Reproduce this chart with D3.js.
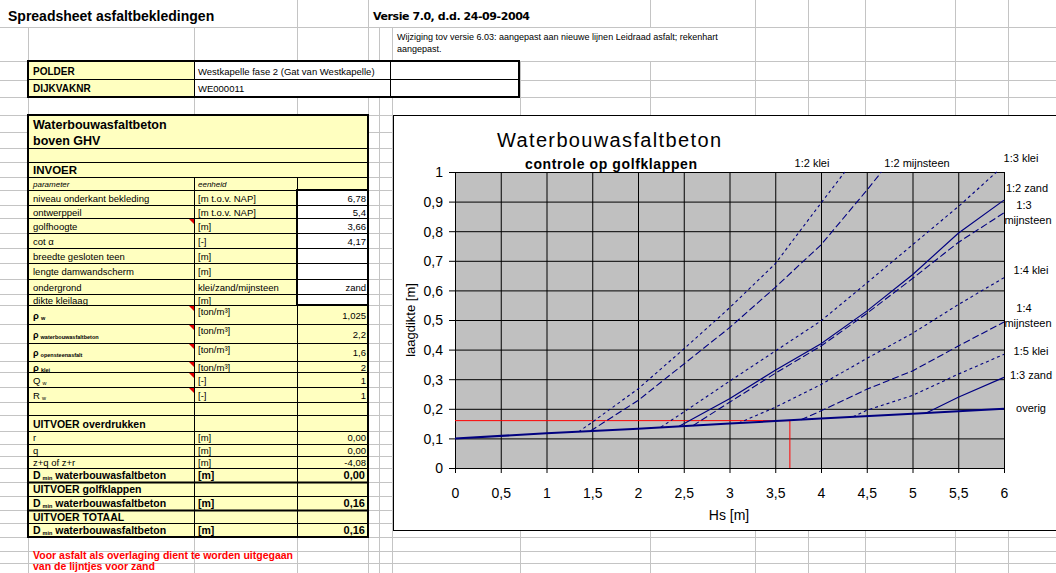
<!DOCTYPE html>
<html>
<head>
<meta charset="utf-8">
<script src="https://cdn.jsdelivr.net/npm/d3@7"></script>
<style>
  body { margin: 0; background: #fff; }
  svg { display: block; font-family: "Liberation Sans", Arial, sans-serif; }
</style>
</head>
<body>
<svg id="sheet" width="1056" height="573"></svg>
<script>
// ---------- chart data ----------
const hsTicks = [0, 0.5, 1, 1.5, 2, 2.5, 3, 3.5, 4, 4.5, 5, 5.5, 6];
const hsTickLabels = ["0", "0,5", "1", "1,5", "2", "2,5", "3", "3,5", "4", "4,5", "5", "5,5", "6"];
const dTicks = [0, 0.1, 0.2, 0.3, 0.4, 0.5, 0.6, 0.7, 0.8, 0.9, 1];
const dTickLabels = ["0", "0,1", "0,2", "0,3", "0,4", "0,5", "0,6", "0,7", "0,8", "0,9", "1"];

const seriesNames = ["1:2 klei", "1:2 mijnsteen", "1:3 klei", "1:2 zand", "1:3 mijnsteen",
                     "1:4 klei", "1:4 mijnsteen", "1:5 klei", "1:3 zand", "overig"];

const hs12klei = [1.35, 1.5, 2, 2.5, 3, 3.5, 4, 4.26];
const d12klei  = [0.122, 0.155, 0.267, 0.402, 0.541, 0.69, 0.895, 1.0];
const hs12mijn = [1.48, 2, 2.5, 3, 3.5, 4, 4.5, 4.66];
const d12mijn  = [0.125, 0.228, 0.351, 0.474, 0.61, 0.754, 0.938, 1.0];
const hs13klei = [2.25, 2.5, 3, 3.5, 4, 4.5, 5, 5.5, 5.92];
const d13klei  = [0.138, 0.189, 0.293, 0.395, 0.497, 0.625, 0.754, 0.883, 1.0];
const hs12zand = [2.45, 3, 3.5, 4, 4.5, 5, 5.5, 6];
const d12zand  = [0.141, 0.234, 0.33, 0.42, 0.53, 0.653, 0.793, 0.905];
const hs13mijn = [2.6, 3, 3.5, 4, 4.5, 5, 5.5, 6];
const d13mijn  = [0.143, 0.222, 0.32, 0.412, 0.522, 0.64, 0.762, 0.862];
const hs14klei = [3.1, 3.5, 4, 4.5, 5, 5.5, 6];
const d14klei  = [0.152, 0.205, 0.282, 0.37, 0.455, 0.552, 0.643];
const hs14mijn = [3.78, 4, 4.5, 5, 5.5, 6];
const d14mijn  = [0.163, 0.193, 0.266, 0.328, 0.412, 0.493];
const hs15klei = [4.35, 4.5, 5, 5.5, 6];
const d15klei  = [0.173, 0.195, 0.245, 0.317, 0.384];
const hs13zand = [5.15, 5.5, 6];
const d13zand  = [0.186, 0.239, 0.306];
const hsOverig = [0, 1, 2, 3, 4, 5, 6];
const dOverig  = [0.1, 0.117, 0.133, 0.15, 0.167, 0.183, 0.2];

const hsInput = 3.66;   // golfhoogte
const dResult = 0.16;   // D min golfklappen

// ---------- spreadsheet text ----------
const sheetTitle = "Spreadsheet asfaltbekledingen";
const versionText = "Versie 7.0, d.d. 24-09-2004";
const changeText = ["Wijziging tov versie 6.03: aangepast aan nieuwe lijnen Leidraad asfalt; rekenhart", "aangepast."];
const headerKeys = ["POLDER", "DIJKVAKNR"];
const headerVals = ["Westkapelle fase 2 (Gat van Westkapelle)", "WE000011"];

const blockTitle = ["Waterbouwasfaltbeton", "boven GHV"];
const colHeads = ["parameter", "eenheid"];
const invoerParams = [["niveau onderkant bekleding"], ["ontwerppeil"], ["golfhoogte"], ["cot α"],
  ["breedte gesloten teen"], ["lengte damwandscherm"], ["ondergrond"], ["dikte kleilaag"],
  ["ρ", "w"], ["ρ", "waterbouwasfaltbeton"], ["ρ", "opensteenasfalt"], ["ρ", "klei"], ["Q", "w"], ["R", "w"]];
const invoerUnits = ["[m t.o.v. NAP]", "[m t.o.v. NAP]", "[m]", "[-]", "[m]", "[m]", "klei/zand/mijnsteen", "[m]",
  "[ton/m³]", "[ton/m³]", "[ton/m³]", "[ton/m³]", "[-]", "[-]"];
const invoerValues = ["6,78", "5,4", "3,66", "4,17", "", "", "zand", "", "1,025", "2,2", "1,6", "2", "1", "1"];
const invoerComment = [false, false, true, false, false, false, false, false, true, true, true, true, true, true];
const uitvoerTitles = ["UITVOER overdrukken", "UITVOER golfklappen", "UITVOER TOTAAL"];
const overdrukParams = ["r", "q", "z+q of z+r"];
const overdrukValues = ["0,00", "0,00", "-4,08"];
const dminValues = ["0,00", "0,16", "0,16"];
const noteText = ["Voor asfalt als overlaging dient te worden uitgegaan", "van de lijntjes voor zand"];

// ---------- layout ----------
const W = 1056, H = 573;
const navy = "#000080";
const yellow = "#ffffc0";
const colA = 28, colB = 194, colC = 297, colD = 368;
const sheetRowLines = [27, 61, 80, 97, 115, 132, 148, 162, 177, 190, 205, 218, 233, 248, 263, 279, 294, 305,
  324, 343, 361, 372, 387, 402, 415, 431, 444, 456, 468, 482, 496, 510, 523, 537, 551, 563];
const sheetColLines = [28, 194, 297, 368, 379, 392, 520, 650, 755, 808, 865, 955, 1008];
const invoerTops = [190, 205, 218, 233, 248, 263, 279, 294, 305, 324, 343, 361, 372, 387, 402];

const svg = d3.select("#sheet");
svg.append("rect").attr("width", W).attr("height", H).attr("fill", "#fff");

// sheet gridlines
const grid = svg.append("g").attr("stroke", "#c4c4c4").attr("stroke-width", 1);
sheetRowLines.forEach(v => grid.append("line").attr("x1", 0).attr("x2", W).attr("y1", v + 0.5).attr("y2", v + 0.5));
sheetColLines.forEach(v => grid.append("line").attr("x1", v + 0.5).attr("x2", v + 0.5).attr("y1", 0).attr("y2", H));

// overflow text hides the gridlines beneath it
[[0, 0, 297, 27], [369, 0, 281, 27], [393, 28, 362, 33]].forEach(r =>
  svg.append("rect").attr("x", r[0]).attr("y", r[1]).attr("width", r[2]).attr("height", r[3]).attr("fill", "#fff"));

svg.append("text").attr("x", 8).attr("y", 21).attr("font-size", 14).attr("font-weight", "bold").text(sheetTitle);
svg.append("text").attr("x", 373).attr("y", 20).attr("font-size", 11).attr("font-weight", "bold")
  .attr("font-family", "'DejaVu Sans', sans-serif").attr("textLength", 157).text(versionText);
changeText.forEach((t, i) => svg.append("text").attr("x", 397).attr("y", 40 + i * 12).attr("font-size", 9).text(t));

// POLDER / DIJKVAKNR box
const hdr = svg.append("g");
hdr.append("rect").attr("x", colA).attr("y", 61).attr("width", 491).attr("height", 36).attr("fill", "#fff");
hdr.append("rect").attr("x", colA).attr("y", 61).attr("width", colB - colA).attr("height", 36).attr("fill", yellow);
hdr.append("line").attr("x1", colA).attr("x2", 519).attr("y1", 79.5).attr("y2", 79.5).attr("stroke", "#000");
[colB, 390].forEach(v => hdr.append("line").attr("x1", v + 0.5).attr("x2", v + 0.5).attr("y1", 61).attr("y2", 97).attr("stroke", "#000"));
hdr.append("rect").attr("x", colA).attr("y", 61).attr("width", 491).attr("height", 36)
  .attr("fill", "none").attr("stroke", "#000").attr("stroke-width", 2);
headerKeys.forEach((t, i) => {
  hdr.append("text").attr("x", 33).attr("y", 75 + i * 17).attr("font-size", 10).attr("font-weight", "bold").text(t);
  hdr.append("text").attr("x", 198).attr("y", 75 + i * 17).attr("font-size", 9.5).text(headerVals[i]);
});

// ---------- left table ----------
const tb = svg.append("g");
tb.append("rect").attr("x", colA).attr("y", 115).attr("width", colD - colA).attr("height", 422).attr("fill", yellow);
tb.append("rect").attr("x", colC).attr("y", 190).attr("width", colD - colC).attr("height", 115).attr("fill", "#fff");

const hline = (yv, w) => tb.append("line").attr("x1", colA).attr("x2", colD).attr("y1", yv + 0.5).attr("y2", yv + 0.5)
  .attr("stroke", "#000").attr("stroke-width", w || 1);
[148, 162, 177].concat(invoerTops, [415, 431, 444, 456, 468, 496, 523]).forEach(v => hline(v));
[482, 510].forEach(v => hline(v, 2));
[colB, colC].forEach(v => tb.append("line").attr("x1", v + 0.5).attr("x2", v + 0.5).attr("y1", 177).attr("y2", 537).attr("stroke", "#000"));
tb.append("rect").attr("x", colC).attr("y", 190).attr("width", colD - colC).attr("height", 115)
  .attr("fill", "none").attr("stroke", "#000").attr("stroke-width", 2);
tb.append("rect").attr("x", colA).attr("y", 115).attr("width", colD - colA).attr("height", 422)
  .attr("fill", "none").attr("stroke", "#000").attr("stroke-width", 2);

function cell(xp, yp, parts, opts) {
  const o = opts || {};
  const t = tb.append("text").attr("x", xp).attr("y", yp).attr("font-size", o.size || 9.5)
    .attr("font-weight", o.bold ? "bold" : "normal").attr("font-style", o.italic ? "italic" : "normal")
    .attr("text-anchor", o.anchor || "start");
  t.append("tspan").text(parts[0]);
  if (parts[1]) t.append("tspan").attr("font-size", 5.5).attr("dx", 2).attr("dy", 1).text(parts[1]);
  if (parts[2]) t.append("tspan").attr("dy", -1).text(parts[2]);
  return t;
}

cell(33, 129, [blockTitle[0]], { size: 12.5, bold: true });
cell(33, 145, [blockTitle[1]], { size: 12.5, bold: true });
cell(33, 174, ["INVOER"], { size: 11.5, bold: true });
cell(33, 187, [colHeads[0]], { size: 8, italic: true });
cell(198, 187, [colHeads[1]], { size: 8, italic: true });

invoerParams.forEach((p, i) => {
  const top = invoerTops[i], bot = invoerTops[i + 1];
  const base = Math.round((top + bot) / 2) + 4;
  cell(33, base, p, { size: p.length > 1 && p[1].length > 4 ? 9 : 9.5, bold: p[0] === "ρ" });
  cell(198, i >= 8 && i <= 11 ? top + 10 : base, [invoerUnits[i]], { size: 9.5 });
  cell(366, base, [invoerValues[i]], { size: 9.5, anchor: "end" });
  if (invoerComment[i]) {
    tb.append("path").attr("d", `M${colB - 5},${top + 1}L${colB},${top + 1}L${colB},${top + 6}Z`).attr("fill", "#e00000");
  }
});

cell(33, 428, [uitvoerTitles[0]], { size: 10.5, bold: true });
overdrukParams.forEach((p, i) => {
  const top = [431, 444, 456][i];
  cell(33, top + 10, [p], { size: 9.5 });
  cell(198, top + 10, ["[m]"], { size: 9.5 });
  cell(366, top + 10, [overdrukValues[i]], { size: 9.5, anchor: "end" });
});
[[468, null], [496, 482], [523, 510]].forEach((r, i) => {
  if (r[1] !== null) cell(33, r[1] + 11, [uitvoerTitles[i]], { size: 10.5, bold: true });
  cell(33, r[0] + 11, ["D", "min", " waterbouwasfaltbeton"], { size: 10.5, bold: true });
  cell(198, r[0] + 11, ["[m]"], { size: 10.5, bold: true });
  cell(365, r[0] + 11, [dminValues[i]], { size: 11, bold: true, anchor: "end" });
});

noteText.forEach((t, i) => svg.append("text").attr("x", 33).attr("y", 559 + i * 11).attr("font-size", 10.5)
  .attr("font-weight", "bold").attr("fill", "#ff0000").text(t));

// ---------- chart ----------
const ch = svg.append("g");
ch.append("rect").attr("x", 393.5).attr("y", 115.5).attr("width", 700).attr("height", 415)
  .attr("fill", "#fff").attr("stroke", "#000");

const x = d3.scaleLinear().domain([0, 6]).range([455, 1004]);
const y = d3.scaleLinear().domain([0, 1]).range([468, 172]);

ch.append("rect").attr("x", x(0)).attr("y", y(1)).attr("width", x(6) - x(0)).attr("height", y(0) - y(1)).attr("fill", "#c0c0c0");

ch.append("g").attr("transform", `translate(0,${y(0)})`)
  .call(d3.axisBottom(x).tickValues(hsTicks).tickSizeInner(-(y(0) - y(1))).tickSizeOuter(0).tickFormat(""))
  .call(g => g.selectAll("line").attr("stroke", "#000"))
  .call(g => g.select(".domain").attr("stroke", "#000"));
ch.append("g").attr("transform", `translate(${x(0)},0)`)
  .call(d3.axisLeft(y).tickValues(dTicks).tickSizeInner(-(x(6) - x(0))).tickSizeOuter(0).tickFormat(""))
  .call(g => g.selectAll("line").attr("stroke", "#000"))
  .call(g => g.select(".domain").attr("stroke", "#000"));

const xAxis = ch.append("g").attr("transform", `translate(0,${y(0)})`)
  .call(d3.axisBottom(x).tickValues(hsTicks).tickSize(5).tickPadding(15).tickFormat((d, i) => hsTickLabels[i]));
xAxis.select(".domain").remove();
xAxis.selectAll("line").attr("stroke", "#000");
xAxis.selectAll("text").attr("font-size", 14).attr("fill", "#000").attr("font-family", "'Liberation Sans', Arial, sans-serif");

const yAxis = ch.append("g").attr("transform", `translate(${x(0)},0)`)
  .call(d3.axisLeft(y).tickValues(dTicks).tickSize(6).tickPadding(6).tickFormat((d, i) => dTickLabels[i]));
yAxis.select(".domain").remove();
yAxis.selectAll("line").attr("stroke", "#000");
yAxis.selectAll("text").attr("font-size", 14).attr("fill", "#000").attr("dy", "0.35em").attr("font-family", "'Liberation Sans', Arial, sans-serif");

ch.append("text").attr("transform", `translate(415,${(y(0) + y(1)) / 2}) rotate(-90)`).attr("text-anchor", "middle")
  .attr("font-size", 13).text("laagdikte [m]");
ch.append("text").attr("x", 729).attr("y", 520).attr("text-anchor", "middle").attr("font-size", 14).text("Hs [m]");
ch.append("text").attr("x", 497).attr("y", 147).attr("font-size", 20).attr("textLength", 224).text("Waterbouwasfaltbeton");
ch.append("text").attr("x", 611).attr("y", 169).attr("text-anchor", "middle").attr("font-size", 14)
  .attr("font-weight", "bold").attr("textLength", 172).text("controle op golfklappen");

// red reading lines
ch.append("path").attr("d", `M${x(0)},${y(dResult)}H${x(hsInput)}M${x(hsInput)},${y(0)}V${y(dResult)}`)
  .attr("fill", "none").attr("stroke", "#ff0000").attr("stroke-width", 1);

ch.append("clipPath").attr("id", "plotclip").append("rect")
  .attr("x", x(0)).attr("y", y(1) - 1).attr("width", x(6) - x(0) + 1).attr("height", y(0) - y(1) + 1);

const seriesHs = [hs12klei, hs12mijn, hs13klei, hs12zand, hs13mijn, hs14klei, hs14mijn, hs15klei, hs13zand, hsOverig];
const seriesD  = [d12klei, d12mijn, d13klei, d12zand, d13mijn, d14klei, d14mijn, d15klei, d13zand, dOverig];
const lineDash = ["3,3", "7,3", "3,3", null, "7,3", "3,3", "7,3", "3,3", null, null];
const lineWidth = [1.1, 1.1, 1.1, 1.2, 1.1, 1.1, 1.1, 1.1, 1.2, 2];
const series = seriesNames.map((name, i) => ({ name, pts: seriesHs[i].map((h, j) => [h, seriesD[i][j]]) }));

const line = d3.line().x(d => x(d[0])).y(d => y(d[1]));
ch.append("g").attr("clip-path", "url(#plotclip)").selectAll("path").data(series).join("path")
  .attr("d", d => line(d.pts)).attr("fill", "none").attr("stroke", navy)
  .attr("stroke-width", (d, i) => lineWidth[i]).attr("stroke-dasharray", (d, i) => lineDash[i]);

// series labels
const labelPos = [[812, 167], [917, 167], [1021, 162], [1027, 192], [1024, 209], [1031, 274],
  [1024, 312], [1031, 355], [1031, 379], [1031, 412]];
series.forEach((s, i) => {
  const words = s.name === "1:3 mijnsteen" || s.name === "1:4 mijnsteen" ? [s.name.split(" ")[0], "mijnsteen"] : [s.name];
  words.forEach((w, k) => ch.append("text").attr("x", labelPos[i][0] + (k ? 4 : 0)).attr("y", labelPos[i][1] + k * 15)
    .attr("text-anchor", "middle").attr("font-size", 11).text(w));
});
</script>
</body>
</html>
